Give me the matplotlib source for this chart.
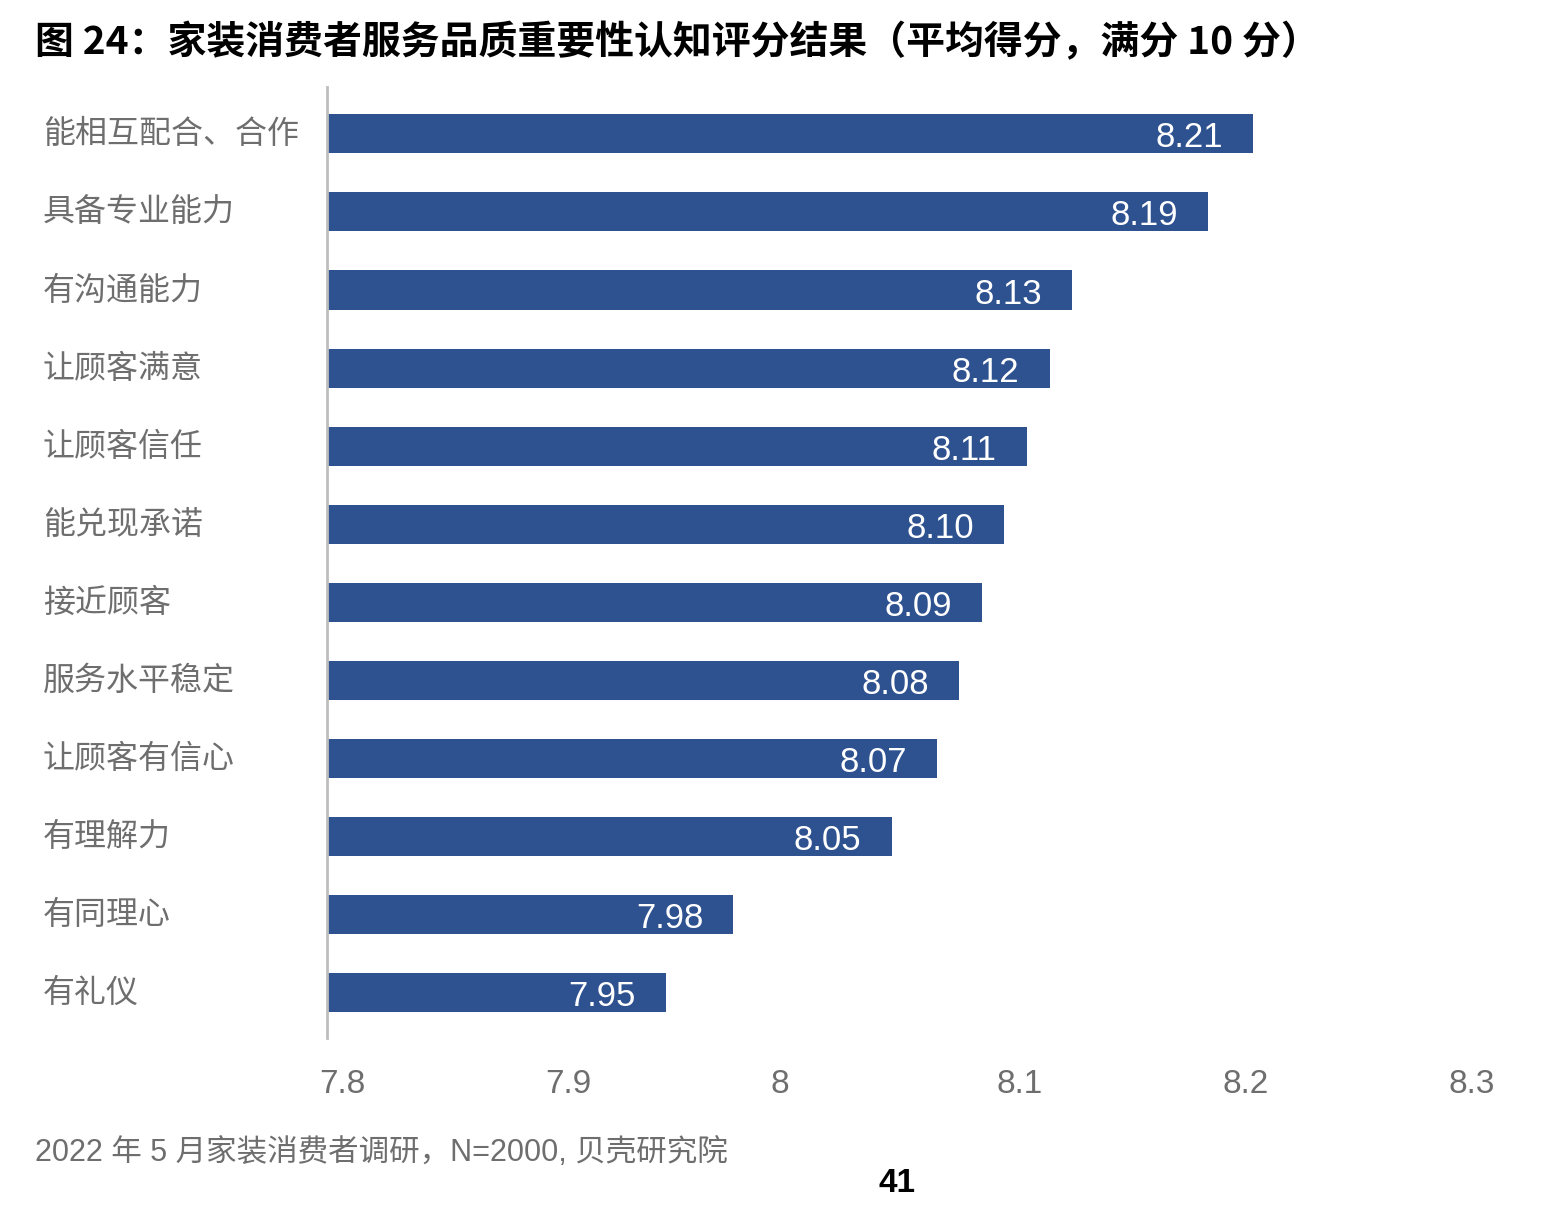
import matplotlib.pyplot as plt
import matplotlib.transforms as mtransforms

plt.rcParams['font.family'] = ['Liberation Sans', 'Noto Sans CJK SC', 'DejaVu Sans']

# data, top to bottom as shown
categories = ['能相互配合、合作', '具备专业能力', '有沟通能力', '让顾客满意', '让顾客信任',
              '能兑现承诺', '接近顾客', '服务水平稳定', '让顾客有信心', '有理解力',
              '有同理心', '有礼仪']
scores = [8.21, 8.19, 8.13, 8.12, 8.11, 8.10, 8.09, 8.08, 8.07, 8.05, 7.98, 7.95]
x_ticks = [7.8, 7.9, 8.0, 8.1, 8.2, 8.3]
x_tick_labels = ['7.8', '7.9', '8', '8.1', '8.2', '8.3']

title = '图 24：家装消费者服务品质重要性认知评分结果（平均得分，满分 10 分）'
source = '2022 年 5 月家装消费者调研，N=2000, 贝壳研究院'
page_no = '41'

bar_color = '#2E5190'
grey = '#6e6e6e'

W, H = 1558, 1215
fig = plt.figure(figsize=(W / 100, H / 100), dpi=100)
ax = fig.add_axes([327 / W, 1 - 1038 / H, 1129 / W, (1038 - 87) / H])

ypos = list(range(len(categories)))
ax.barh(ypos, [s - 7.8 for s in scores], left=7.8, height=0.5, color=bar_color)
ax.set_xlim(7.8, 8.3)
ax.set_ylim(len(categories) - 1 + 0.58, -0.6)

# value labels inside the bar ends
for y, s in zip(ypos, scores):
    off = mtransforms.offset_copy(ax.transData, fig=fig, x=-30, y=-4, units='dots')
    ax.text(s, y, f'{s:.2f}', transform=off, ha='right', va='center',
            color='white', fontsize=25)

ax.set_yticks(ypos)
ax.set_yticklabels(categories, fontsize=23, color=grey, ha='left',
                   family=['Noto Sans CJK SC', 'DejaVu Sans'])
ax.tick_params(axis='y', length=0, pad=(327 - 43) * 0.72)
up = mtransforms.ScaledTranslation(0, 3 / 100, fig.dpi_scale_trans)
for lbl in ax.get_yticklabels():
    lbl.set_transform(lbl.get_transform() + up)

ax.set_xticks(x_ticks)
ax.set_xticklabels(x_tick_labels, fontsize=24, color=grey, ha='left')
ax.tick_params(axis='x', length=0, pad=22)
shift = mtransforms.ScaledTranslation(-8 / 100, 0, fig.dpi_scale_trans)
for lbl in ax.get_xticklabels():
    lbl.set_transform(lbl.get_transform() + shift)

for side in ['top', 'right', 'bottom']:
    ax.spines[side].set_visible(False)
ax.spines['left'].set_color('#bdbdbd')
ax.spines['left'].set_linewidth(2)

fig.text(35 / W, 1 - 43 / H, title, fontsize=28, fontweight='bold', color='black',
         ha='left', va='center', family=['Noto Sans CJK SC', 'DejaVu Sans'])
fig.text(35 / W, 1 - 1153 / H, source, fontsize=22, color=grey, ha='left', va='center')
fig.text(897 / W, 1 - 1183 / H, page_no, fontsize=24, fontweight='bold', color='black',
         ha='center', va='center')

fig.savefig('out.png', dpi=100, facecolor='white')
